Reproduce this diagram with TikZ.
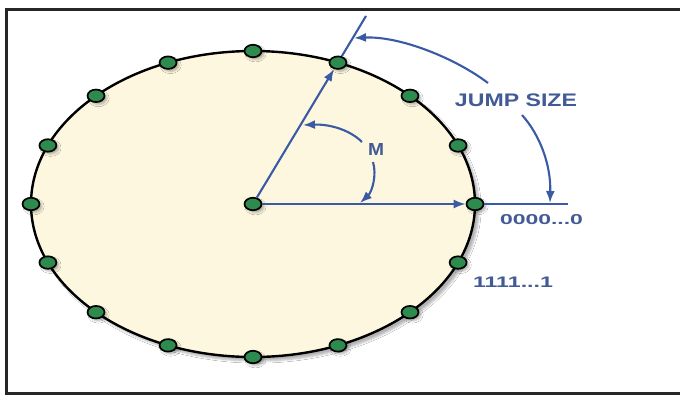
\documentclass[tikz,border=0pt]{standalone}
\usepackage{fontspec}
\setmainfont{Liberation Sans}
\usetikzlibrary{arrows.meta,shapes.geometric,shadows.blur}
\definecolor{cream}{RGB}{252,247,222}
\definecolor{dotgreen}{RGB}{46,139,78}
\definecolor{lineblue}{RGB}{58,90,165}
\definecolor{textblue}{RGB}{66,90,150}
\begin{document}
\begin{tikzpicture}[x=1pt,y=-1pt,
  dot/.style={ellipse,draw=black,line width=1.7pt,fill=dotgreen,minimum width=17pt,minimum height=12.5pt,inner sep=0pt,
    blur shadow={shadow xshift=2.5pt,shadow yshift=-2.5pt,shadow opacity=30,shadow blur steps=4}},
  arr/.style={lineblue,line width=2.1pt,-{Latex[length=12pt,width=9pt]}},
  bline/.style={lineblue,line width=2.1pt},
  lab/.style={text=textblue,font=\bfseries,inner sep=0pt}]
\useasboundingbox (0,0) rectangle (680,394);
\fill[white] (0,0) rectangle (680,394);
\draw[line width=3pt,black!85] (680,9) -- (6,9) -- (6,393) -- (680,393);
\draw[line width=2.4pt,fill=cream,blur shadow={shadow xshift=4pt,shadow yshift=-4pt,shadow opacity=30,shadow blur steps=6}]
  (253,204) ellipse [x radius=222pt,y radius=153pt];
% coordinates for free ends
\coordinate (e1) at (366,16);
\coordinate (e4) at (568,204);
\coordinate (m1s) at (362,142);
\coordinate (m1e) at (303,125);
\coordinate (m2s) at (373,162);
\coordinate (m2e) at (360,203);
\coordinate (j1s) at (488,83);
\coordinate (j1e) at (354,38);
\coordinate (j2s) at (522,115);
\coordinate (j2e) at (550,203);
% dots
\node[dot] (c) at (253,204) {};
\foreach \i in {0,...,15}
  \node[dot] (d\i) at ({253+222*sin(\i*22.5)},{204-153*cos(\i*22.5)}) {};
% radial arrows and extensions
\draw[arr] (c) -- (d1);
\draw[bline] (d1) -- (e1);
\draw[arr] (c) -- (d4);
\draw[bline] (d4) -- (e4);
% M arcs
\draw[arr] (m1s) .. controls (350,130) and (330,124) .. (m1e);
\draw[arr] (m2s) .. controls (377,175) and (372,192) .. (m2e);
% jump size arcs
\draw[arr] (j1s) .. controls (455,58) and (400,36) .. (j1e);
\draw[arr] (j2s) .. controls (540,135) and (551,165) .. (j2e);
% labels
\node[lab] (m) at (376,149) {\resizebox{16pt}{12pt}{M}};
\node[lab] (jump) at (516,100) {\resizebox{122pt}{12.7pt}{JUMP SIZE}};
\node[lab] (zero) at (541.5,220) {\resizebox{83pt}{10pt}{0000...0}};
\node[lab] (one) at (513,282) {\resizebox{80pt}{10.5pt}{1111...1}};
\end{tikzpicture}
\end{document}
